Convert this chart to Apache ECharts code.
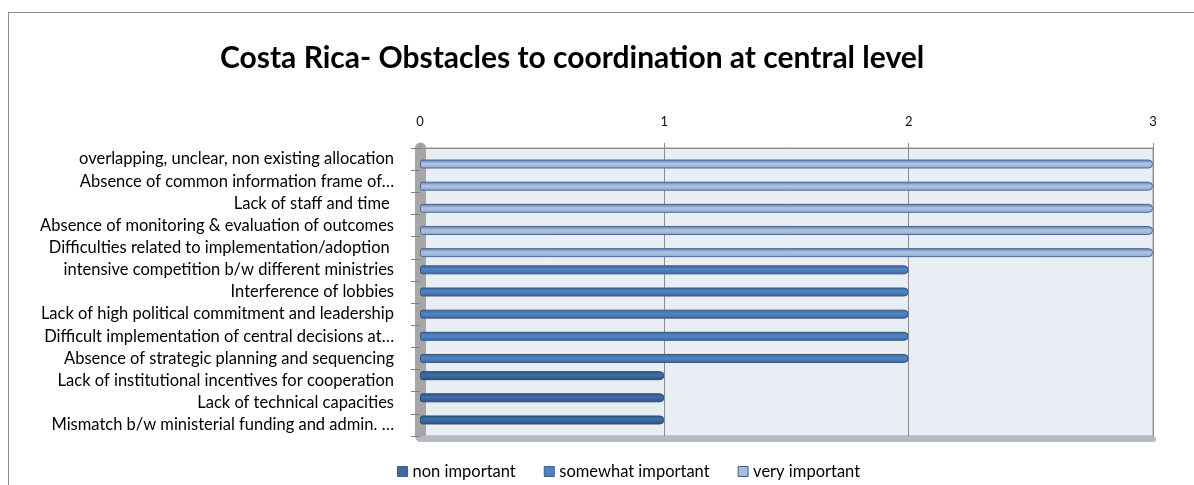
<!DOCTYPE html>
<html><head><meta charset="utf-8">
<script src="https://cdn.jsdelivr.net/npm/echarts@6/dist/echarts.min.js"></script>
<style>
html,body{margin:0;padding:0;background:#fff;}
#c{width:1194px;height:485px;}
#frame{position:absolute;left:8px;top:12px;right:0;bottom:0;border-left:1px solid #8c8c8c;border-top:1px solid #8c8c8c;pointer-events:none;}
</style>
</head><body><div id="c"></div><div id="frame"></div>
<script>
const categories = [
  "overlapping, unclear, non existing allocation",
  "Absence of common information frame of\u2026",
  "Lack of staff and time ",
  "Absence of monitoring & evaluation of outcomes",
  "Difficulties related to implementation/adoption ",
  "intensive competition b/w different ministries",
  "Interference of lobbies",
  "Lack of high political commitment and leadership",
  "Difficult implementation of central decisions at\u2026",
  "Absence of strategic planning and sequencing",
  "Lack of institutional incentives for cooperation",
  "Lack of technical capacities",
  "Mismatch b/w ministerial funding and admin. \u2026"
];
const nonImportant      = [null,null,null,null,null,null,null,null,null,null,1,1,1];
const somewhatImportant = [null,null,null,null,null,2,2,2,2,2,null,null,null];
const veryImportant     = [3,3,3,3,3,null,null,null,null,null,null,null,null];
const seriesNames = ["non important","somewhat important","very important"];
const xMin = 0, xMax = 3, xStep = 1;

const FONT = 'Lato';
function grad(c0, c1, c2) {
  return new echarts.graphic.LinearGradient(0,0,0,1,[
    {offset:0,color:c0},{offset:0.45,color:c1},{offset:1,color:c2}]);
}
const styles = [
  {color: grad('#2f5687','#3f6ea5','#2e5383'), borderColor:'#2b4d78'},
  {color: grad('#3a659b','#5286c4','#3b679e'), borderColor:'#36598a'},
  {color: grad('#5577a6','#b2c4e3','#8ea8d0'), borderColor:'#4a6a98'}
];
const legendColors = ['#3e6a9f','#4f81bd','#a9bcdc'];
const values = [nonImportant, somewhatImportant, veryImportant];

const chart = echarts.init(document.getElementById('c'), null, {renderer:'canvas'});
chart.setOption({
  animation:false,
  backgroundColor:'#ffffff',
  textStyle:{fontFamily:FONT},
  title:{
    text:'Costa Rica- Obstacles to coordination at central level',
    left:215, top:38,
    textStyle:{fontFamily:FONT,fontSize:30,fontWeight:'bold',color:'#000'}
  },
  legend:{
    left:392, top:458,
    itemWidth:10, itemHeight:10, itemGap:28,
    icon:'rect',
    textStyle:{fontFamily:FONT,fontSize:16.5,color:'#000'},
    data: seriesNames.map((n,i)=>({name:n,itemStyle:{color:legendColors[i],borderColor:'#3b5f8d',borderWidth:1}}))
  },
  grid:{
    left:420, right:41, top:148, bottom:49,
    show:true, backgroundColor:'#e9edf4', borderColor:'#9a9a9a', borderWidth:1
  },
  xAxis:[{
    type:'value', position:'top', min:xMin, max:xMax, interval:xStep,
    axisLine:{show:true,lineStyle:{color:'#8c8c8c'}},
    axisTick:{show:true,length:5,lineStyle:{color:'#8c8c8c'}},
    axisLabel:{fontFamily:FONT,fontSize:13,color:'#111',margin:20},
    splitLine:{show:true,lineStyle:{color:'#8c8c8c',width:1}}
  },{
    type:'value', position:'bottom', min:xMin, max:xMax, interval:xStep, offset:3,
    axisLine:{show:true,lineStyle:{color:'#b6babf',width:6}},
    axisTick:{show:false}, axisLabel:{show:false}, splitLine:{show:false}
  }],
  yAxis:{
    type:'category', inverse:true, data:categories, offset:6,
    axisLine:{show:true,lineStyle:{color:'#a6a6a6',width:11}},
    axisTick:{show:true,length:9,lineStyle:{color:'#7f7f7f'}},
    axisLabel:{fontFamily:FONT,fontSize:16.5,color:'#000',margin:20},
    splitLine:{show:false}
  },
  series: seriesNames.map((n,i)=>({
    name:n, type:'bar', data:values[i],
    barWidth:9, barGap:'-45%',
    itemStyle:{color:styles[i].color,borderColor:styles[i].borderColor,borderWidth:1,borderRadius:[2,4,4,2]}
  }))
});
</script></body></html>
